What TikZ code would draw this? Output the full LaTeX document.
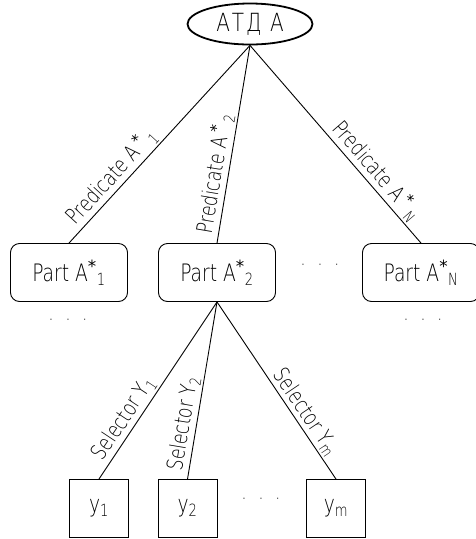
\documentclass[tikz,border=0pt]{standalone}
\usepackage{fontspec}
\setmainfont{DejaVu Sans ExtraLight}[FakeStretch=0.78]
\newfontfamily\starfont{DejaVu Sans}
\newfontfamily\rootfont{DejaVu Sans ExtraLight}[FakeStretch=0.8, LetterSpace=8]
\newcommand{\st}{{\starfont *}}
\usetikzlibrary{shapes.geometric}
\begin{document}
\begin{tikzpicture}[x=1pt,y=-1pt, line width=0.9pt,
  nodefont/.style={font=\fontsize{24}{26}\selectfont},
  part/.style={draw, rounded corners=9pt, minimum width=117pt, minimum height=58pt, inner sep=0pt, nodefont},
  leaf/.style={draw, minimum width=59pt, minimum height=58pt, inner sep=0pt, nodefont},
  lbl/.style={sloped, above, font=\fontsize{22}{24}\selectfont, inner sep=2pt},
  dotrow/.style={font=\fontsize{20}{22}\selectfont, inner sep=0pt}]
\useasboundingbox (0,0) rectangle (476,539);
\node[draw, ellipse, line width=1.8pt, minimum width=125pt, minimum height=41pt, inner sep=0pt, font=\rootfont\fontsize{25}{27}\selectfont] (root) at (250,24) {АТД А};
\node[part] (p1) at (69,272.5) {Part A\textsuperscript{\st}\textsubscript{1}};
\node[part] (p2) at (217,272.5) {Part A\textsuperscript{\st}\textsubscript{2}};
\node[part] (pN) at (421,272.5) {Part A\textsuperscript{\st}\textsubscript{N}};
\node[leaf] (y1) at (99,508.5) {y\textsubscript{1}};
\node[leaf] (y2) at (187.5,508.5) {y\textsubscript{2}};
\node[leaf] (ym) at (336,508.5) {y\textsubscript{m}};
\node[dotrow] (d1) at (320,268) {·\hspace{12pt}·\hspace{12pt}·};
\node[dotrow] (d2) at (68,323) {·\hspace{12pt}·\hspace{12pt}·};
\node[dotrow] (d3) at (423,323) {·\hspace{12pt}·\hspace{12pt}·};
\node[dotrow] (d4) at (261,502) {·\hspace{12pt}·\hspace{12pt}·};
\draw (root.south) -- node[lbl, pos=0.71] {Predicate A\,\textsuperscript{\st}\,\textsubscript{1}} (p1.north);
\draw (root.south) -- node[lbl, pos=0.66] {Predicate A\,\textsuperscript{\st}\,\textsubscript{2}} (p2.north);
\draw (root.south) -- node[lbl, pos=0.68] {Predicate A\,\textsuperscript{\st}\,\textsubscript{N}} (pN.north);
\draw (p2.south) -- node[lbl, pos=0.7] {Selector Y\textsubscript{1}} (y1.north);
\draw (p2.south) -- node[lbl, pos=0.7] {Selector Y\textsubscript{2}} (y2.north);
\draw (p2.south) -- node[lbl, pos=0.66] {Selector Y\textsubscript{m}} (ym.north);
\end{tikzpicture}
\end{document}
